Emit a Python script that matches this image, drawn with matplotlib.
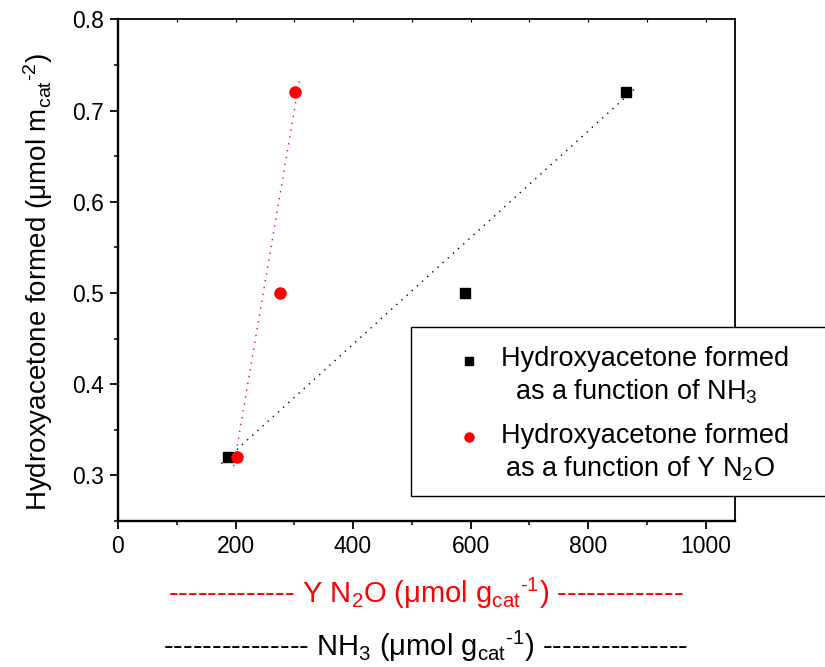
import matplotlib
matplotlib.use('Agg')
import matplotlib.pyplot as plt
from matplotlib.patches import Rectangle
from matplotlib.lines import Line2D
from matplotlib.ticker import MultipleLocator, FormatStrFormatter

plt.rcParams['font.family'] = ['Liberation Sans', 'DejaVu Sans']
plt.rcParams['mathtext.fontset'] = 'custom'
plt.rcParams['mathtext.rm'] = 'Liberation Sans'
plt.rcParams['mathtext.it'] = 'Liberation Sans'
plt.rcParams['mathtext.default'] = 'regular'

# data
hydroxy = [0.32, 0.50, 0.72]
nh3 = [187, 590, 865]
n2o = [203, 276, 301]

# dotted trend lines (end points)
nh3_line_x = [176, 878]
nh3_line_y = [0.313, 0.723]
n2o_line_x = [197, 309]
n2o_line_y = [0.31, 0.734]

W, H = 825, 667
fig = plt.figure(figsize=(8.25, 6.67), dpi=100)
ax = fig.add_axes([118 / W, 1 - 521 / H, (735 - 118) / W, (521 - 19.3) / H])

ax.plot(nh3_line_x, nh3_line_y, color='black', lw=1, linestyle=(0, (1, 4)), zorder=2)
ax.plot(nh3, hydroxy, 's', color='black', ms=7.2, zorder=3)
ax.plot(n2o_line_x, n2o_line_y, color='red', lw=1, linestyle=(0, (1, 4)), zorder=4)
ax.plot(n2o, hydroxy, 'o', color='red', ms=9, mec='none', zorder=5)

ax.set_xlim(0, 1050)
ax.set_ylim(0.25, 0.8)
ax.xaxis.set_major_locator(MultipleLocator(200))
ax.xaxis.set_minor_locator(MultipleLocator(100))
ax.yaxis.set_major_locator(MultipleLocator(0.1))
ax.yaxis.set_minor_locator(MultipleLocator(0.05))
ax.yaxis.set_major_formatter(FormatStrFormatter('%.1f'))

for s in ['left', 'bottom']:
    ax.spines[s].set_linewidth(1.7)
for s in ['top', 'right']:
    ax.spines[s].set_linewidth(1.3)

ax.tick_params(which='major', direction='out', length=6, width=1.3, labelsize=16.5, pad=4)
ax.tick_params(which='minor', direction='out', length=3, width=1.1)

# little inward ticks along the top edge
top = ax.secondary_xaxis('top')
top.set_xticks(range(100, 1050, 100))
top.tick_params(direction='in', length=2.5, width=0.8, labeltop=False)
top.spines['top'].set_visible(False)

fs = 20
fig.text(38 / W, 1 - 282 / H, r'Hydroxyacetone formed ($\mu$mol m$_{cat}$$^{\text{-}2}$)',
         rotation=90, ha='center', va='center', fontsize=fs)

xfs = 21
fig.text(426 / W, 1 - 603 / H,
         '------------- Y N$_2$O ($\\mu$mol g$_{cat}$$^{\\text{-}1}$) -------------',
         color='red', ha='center', va='baseline', fontsize=xfs)
fig.text(426 / W, 1 - 656 / H,
         '--------------- NH$_3$ ($\\mu$mol g$_{cat}$$^{\\text{-}1}$) ---------------',
         color='black', ha='center', va='baseline', fontsize=xfs)

# legend box, drawn by hand (it runs off the right edge)
fig.add_artist(Rectangle((411 / W, 1 - 496 / H), 430 / W, (496 - 327) / H,
                         transform=fig.transFigure, facecolor='white',
                         edgecolor='black', lw=1, zorder=10, clip_on=False))
fig.add_artist(Line2D([469 / W], [1 - 361 / H], marker='s', color='black', ms=6,
                      transform=fig.transFigure, zorder=11))
fig.add_artist(Line2D([469 / W], [1 - 437 / H], marker='o', color='red', ms=7.5,
                      mec='none', transform=fig.transFigure, zorder=11))
lfs = 19.5
fig.text(645 / W, 1 - 365.7 / H, 'Hydroxyacetone formed', ha='center', va='baseline',
         fontsize=lfs, zorder=12)
fig.text(636 / W, 1 - 400 / H, 'as a function of NH$_3$', ha='center', va='baseline',
         fontsize=lfs, zorder=12)
fig.text(645 / W, 1 - 443.3 / H, 'Hydroxyacetone formed', ha='center', va='baseline',
         fontsize=lfs, zorder=12)
fig.text(640 / W, 1 - 476.7 / H, 'as a function of Y N$_2$O', ha='center', va='baseline',
         fontsize=lfs, zorder=12)

fig.savefig('out.png', dpi=100)
